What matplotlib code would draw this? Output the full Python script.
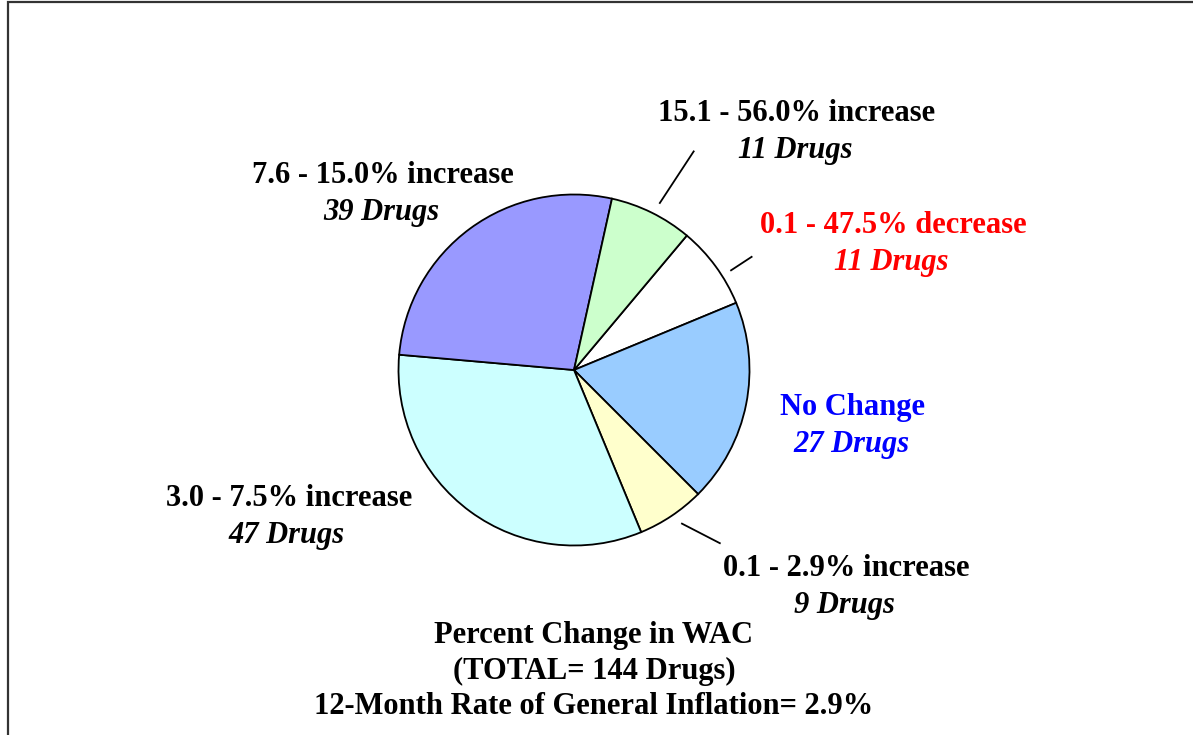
import matplotlib
matplotlib.use("Agg")
import matplotlib.pyplot as plt
import numpy as np

# Percent change in WAC, drug counts per group (clockwise from the top right)
categories = ["0.1 - 47.5% decrease", "No Change", "0.1 - 2.9% increase",
              "3.0 - 7.5% increase", "7.6 - 15.0% increase", "15.1 - 56.0% increase"]
drug_counts = [11, 27, 9, 47, 39, 11]
slice_colors = ["#FFFFFF", "#99CCFF", "#FFFFCC", "#CCFFFF", "#9999FF", "#CCFFCC"]
label_colors = ["#FF0000", "#0000FF", "black", "black", "black", "black"]

title_lines = ["Percent Change in WAC",
               "(TOTAL= 144 Drugs)",
               "12-Month Rate of General Inflation= 2.9%"]

plt.rcParams['font.family'] = ['Liberation Serif', 'DejaVu Serif']

W, H = 1193, 735
fig = plt.figure(figsize=(W / 100, H / 100), dpi=100)
ax = fig.add_axes([0, 0, 1, 1])

cx, cy, r = 574, H - 370, 175.5
ax.pie(drug_counts, colors=slice_colors, startangle=50, counterclock=False,
       center=(cx, cy), radius=r, frame=True,
       wedgeprops=dict(edgecolor="black", linewidth=1.3))
ax.set_xlim(0, W)
ax.set_ylim(0, H)
ax.set_aspect("equal")
ax.axis("off")

# label centres (px from top-left) and leader lines (angle/radius in, angle/radius out)
label_pos = [(893, 225), (853, 407), (846, 569), (289, 498), (383, 175), (797, 113)]
leaders = {0: (32.4, 1.06, 32.5, 1.20),
           2: (-54.9, 1.07, -49.9, 1.29),
           5: (62.8, 1.07, 61.3, 1.42)}

for i, (cat, n) in enumerate(zip(categories, drug_counts)):
    x, y = label_pos[i]
    ax.text(x, H - y, cat, ha="center", va="center", fontsize=22,
            fontweight="bold", color=label_colors[i])
    ax.text(x - 2, H - y - 37, f"{n} Drugs", ha="center", va="center", fontsize=22,
            fontweight="bold", style="italic", color=label_colors[i])
    if i in leaders:
        a0, r0, a1, r1 = leaders[i]
        a0, a1 = np.deg2rad(a0), np.deg2rad(a1)
        ax.plot([cx + r0 * r * np.cos(a0), cx + r1 * r * np.cos(a1)],
                [cy + r0 * r * np.sin(a0), cy + r1 * r * np.sin(a1)],
                color="black", linewidth=1.3)

for k, line in enumerate(title_lines):
    ax.text(594, H - (636 + 35.5 * k), line, ha="center", va="center",
            fontsize=22, fontweight="bold")

# chart frame (only left and top edges visible in the crop)
ax.plot([8, 8, W + 5], [-5, H - 2, H - 2], color="#333333", linewidth=1.6,
        solid_joinstyle="miter")

fig.savefig("out.png", dpi=100)
